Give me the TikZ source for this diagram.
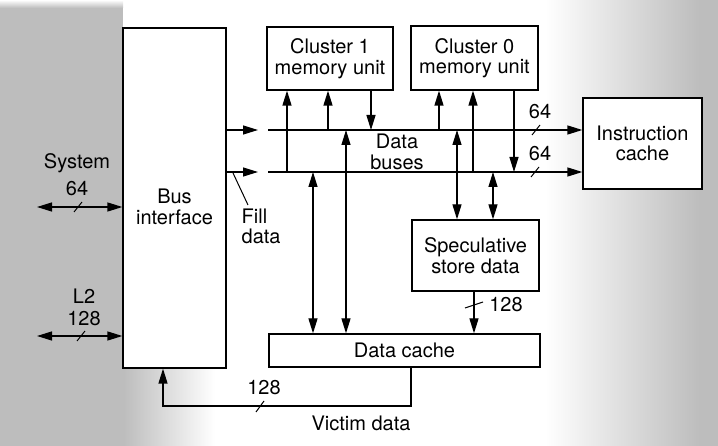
\documentclass[tikz,border=0pt]{standalone}
\usepackage{fontspec}
\setmainfont{TeX Gyre Heros}
\usetikzlibrary{arrows.meta}
\definecolor{bgc}{gray}{0.74}
\begin{document}
\begin{tikzpicture}[x=1pt,y=-1pt, line width=1.3pt,
  box/.style={draw, fill=white, inner sep=0pt},
  lbl/.style={align=center, inner sep=0pt, font=\fontsize{20}{20.5}\selectfont},
  arr/.style={-{Triangle[length=15pt,width=9pt]}},
  darr/.style={{Triangle[length=15pt,width=9pt]}-{Triangle[length=15pt,width=9pt]}},
  slash/.style={line width=1pt}]
\useasboundingbox (0,0) rectangle (718,446);
% background texture (approximated)
\fill[bgc] (0,8) rectangle (123,446);
\shade[left color=bgc, right color=white] (123,368) rectangle (215,446);
\shade[top color=white, bottom color=bgc] (0,0) rectangle (123,8);
\shade[left color=white, right color=bgc] (545,0) rectangle (700,446);
\fill[bgc] (700,0) rectangle (718,446);

% boxes
\node[box, minimum width=103pt, minimum height=340pt] (bi) at (174.5,198) {};
\node[lbl] (bitxt) at (174.5,207) {Bus\\interface};
\node[box, lbl, minimum width=126pt, minimum height=63pt] (c1) at (330,58.5) {Cluster 1\\memory unit};
\node[box, lbl, minimum width=127pt, minimum height=64pt] (c0) at (474.5,58) {Cluster 0\\memory unit};
\node[box, lbl, minimum width=119pt, minimum height=91pt] (ic) at (642.5,143.5) {Instruction\\cache};
\node[box, lbl, minimum width=127pt, minimum height=71pt] (ss) at (475.5,255.5) {Speculative\\store data};
\node[box, lbl, minimum width=271pt, minimum height=33pt] (dc) at (404.5,350.5) {Data cache};

% buses
\coordinate (tl) at (268,130);
\coordinate (bl) at (268,172);
\coordinate (tin) at (258,130);
\coordinate (bin) at (258,172);
\draw[arr] (bi.east |- tl) -- (tin);
\draw[arr] (bi.east |- bl) -- (bin);
\draw[arr] (tl) -- (ic.west |- tl);
\draw[arr] (bl) -- (ic.west |- bl);
\node[lbl] (db) at (397,152) {Data\\buses};

% cluster 1 links
\draw[arr] (287,0 |- bl) -- (287,0 |- c1.south);
\draw[arr] (328,0 |- tl) -- (328,0 |- c1.south);
\draw[arr] (371,0 |- c1.south) -- (371,0 |- tl);
% cluster 0 links
\draw[arr] (439,0 |- tl) -- (439,0 |- c0.south);
\draw[arr] (473,0 |- bl) -- (473,0 |- c0.south);
\draw[arr] (514,0 |- c0.south) -- (514,0 |- bl);
% data cache links
\draw[darr] (313,0 |- bl) -- (313,0 |- dc.north);
\draw[darr] (346,0 |- tl) -- (346,0 |- dc.north);
% speculative store links
\draw[darr] (457,0 |- tl) -- (457,0 |- ss.north);
\draw[darr] (493,0 |- bl) -- (493,0 |- ss.north);
\draw[arr] (474,0 |- ss.south) -- (474,0 |- dc.north);
\draw[slash] (465,308) -- (483,302);
\node[lbl] (w128s) at (506,305) {128};

% instruction cache widths
\node[lbl] (w64a) at (540,112) {64};
\draw[slash] (532,135) -- (540,125);
\node[lbl] (w64b) at (540,154) {64};
\draw[slash] (531,177) -- (539,167);

% victim data
\coordinate (v1) at (411,406);
\coordinate (v2) at (163,406);
\draw[arr] (v1 |- dc.south) -- (v1) -- (v2) -- (v2 |- bi.south);
\draw[slash] (256,412) -- (264,401);
\node[lbl] (w128v) at (264,388) {128};
\node[lbl] (vd) at (361,423) {Victim data};

% fill data
\node[lbl, anchor=north west, align=left] (fd) at (241,208) {Fill\\data};
\coordinate (fl) at (233,173);
\draw[line width=1pt] (fl) -- (248,205);

% system / L2
\coordinate (sysL) at (37,207);
\draw[darr] (sysL) -- (sysL -| bi.west);
\draw[slash] (74,212) -- (82,202);
\node[lbl] (w64s) at (77,189) {64};
\node[lbl] (sys) at (77,163) {System};
\coordinate (l2L) at (37,336);
\draw[darr] (l2L) -- (l2L -| bi.west);
\draw[slash] (77,341) -- (85,331);
\node[lbl] (w128l) at (84,319) {128};
\node[lbl] (l2) at (84,296) {L2};
\end{tikzpicture}
\end{document}
